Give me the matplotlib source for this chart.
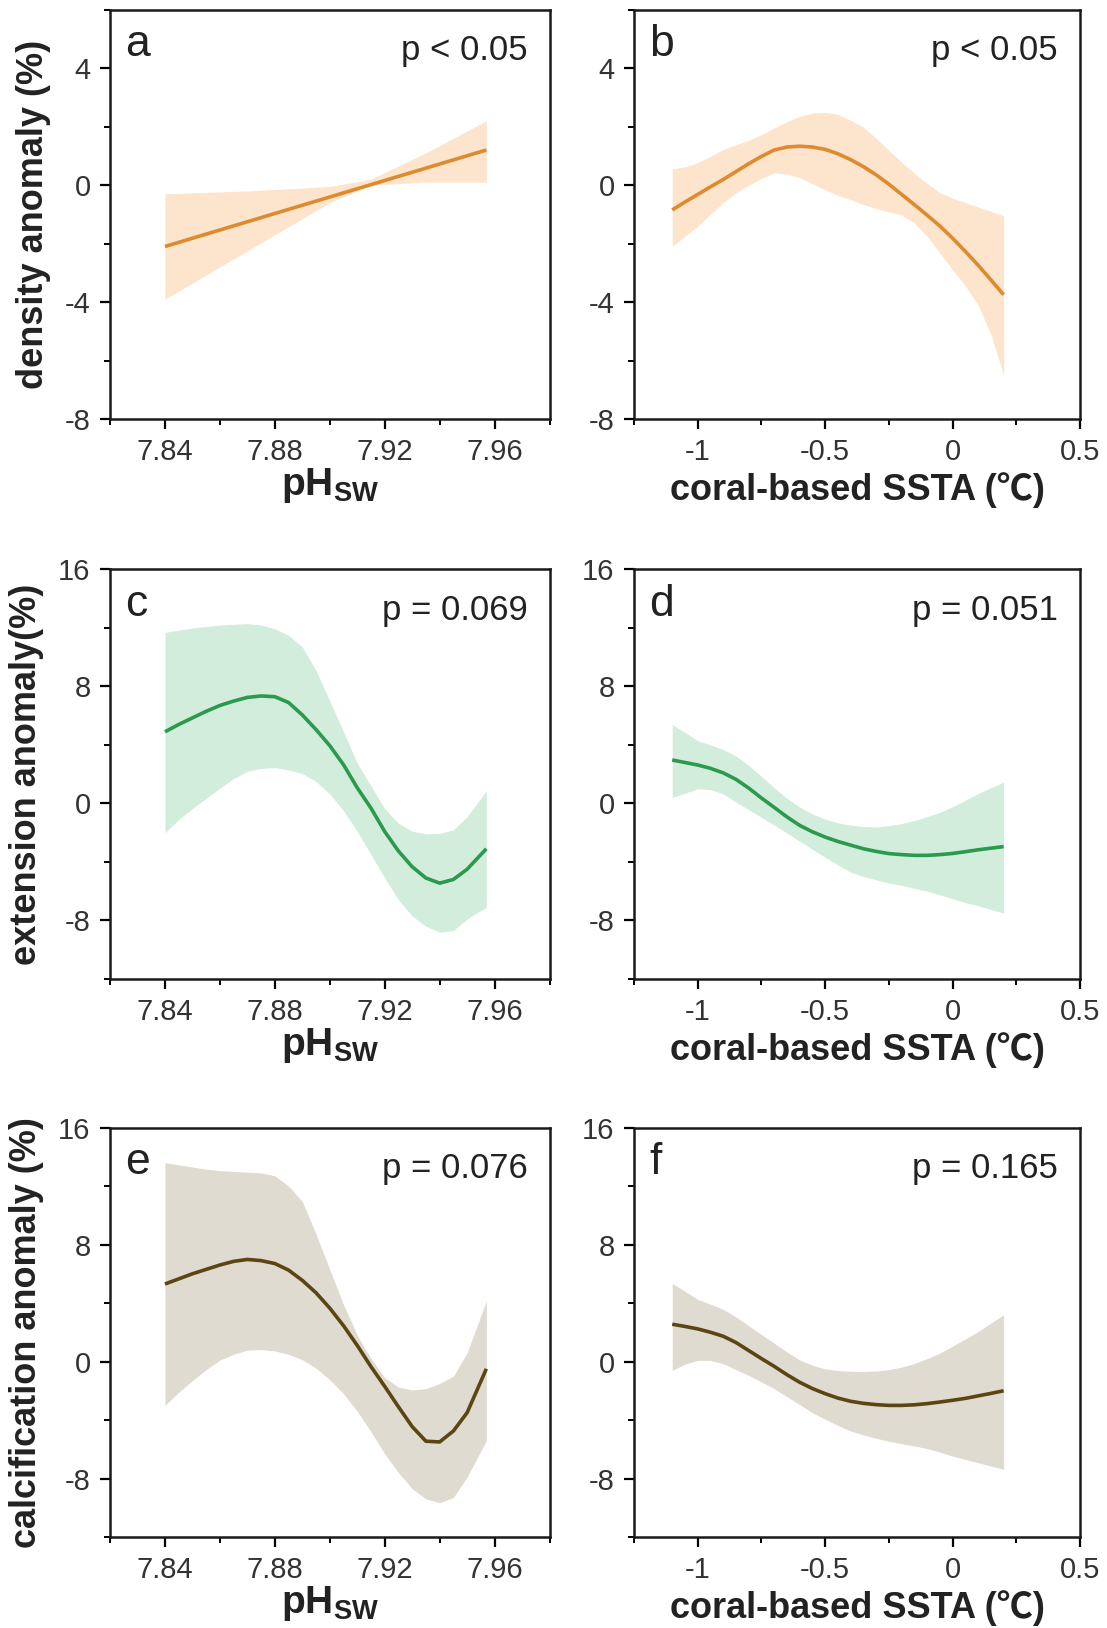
import matplotlib
matplotlib.use("Agg")
import matplotlib.pyplot as plt
from matplotlib.ticker import MultipleLocator

plt.rcParams['font.family'] = ['Liberation Sans', 'Noto Sans CJK SC', 'DejaVu Sans']
plt.rcParams['axes.unicode_minus'] = False
plt.rcParams['mathtext.fontset'] = 'custom'
plt.rcParams['mathtext.rm'] = 'Liberation Sans'
plt.rcParams['mathtext.bf'] = 'Liberation Sans:bold'

# ---- pH panels (a, c, e)
dens_ph_line_x = [7.84, 7.957]
dens_ph_line = [-2.1, 1.2]
dens_ph_band_x = [7.84, 7.87, 7.90, 7.915, 7.935, 7.957]
dens_ph_up = [-0.3, -0.2, -0.05, 0.2, 1.1, 2.2]
dens_ph_lo = [-3.9, -2.25, -0.6, 0.0, 0.1, 0.1]

ph_x = [7.84, 7.845, 7.85, 7.855, 7.86, 7.865, 7.87, 7.875, 7.88, 7.885, 7.89, 7.895,
        7.90, 7.905, 7.91, 7.915, 7.92, 7.925, 7.93, 7.935, 7.94, 7.945, 7.95, 7.957]

ext_ph_line = [4.9, 5.4, 5.85, 6.3, 6.7, 7.0, 7.25, 7.35, 7.3, 6.9, 6.05, 5.05,
               3.95, 2.65, 1.07, -0.32, -1.92, -3.26, -4.33, -5.1, -5.45, -5.2, -4.5, -3.1]
ext_ph_up = [11.7, 11.85, 12.0, 12.1, 12.2, 12.25, 12.3, 12.2, 11.95, 11.5, 10.7, 9.1,
             7.0, 4.9, 2.75, 1.2, -0.35, -1.35, -1.9, -2.08, -2.05, -1.8, -0.9, 0.86]
ext_ph_lo = [-2.0, -1.1, -0.35, 0.35, 1.05, 1.7, 2.2, 2.4, 2.45, 2.3, 2.05, 1.5,
             0.65, -0.5, -1.9, -3.5, -5.1, -6.6, -7.7, -8.4, -8.8, -8.7, -7.9, -7.1]

calc_ph_line = [5.3, 5.65, 6.0, 6.3, 6.6, 6.85, 6.98, 6.9, 6.7, 6.25, 5.55, 4.7,
                3.65, 2.45, 1.1, -0.35, -1.7, -3.1, -4.45, -5.45, -5.5, -4.75, -3.5, -0.5]
calc_ph_up = [13.6, 13.45, 13.3, 13.15, 13.05, 13.0, 12.95, 12.9, 12.7, 12.0, 10.95, 8.7,
              6.3, 3.9, 1.8, 0.2, -1.1, -1.75, -1.95, -1.85, -1.5, -1.0, 0.6, 4.15]
calc_ph_lo = [-3.0, -2.1, -1.3, -0.55, 0.1, 0.5, 0.78, 0.82, 0.72, 0.5, 0.12, -0.45,
              -1.25, -2.2, -3.4, -4.8, -6.3, -7.6, -8.7, -9.4, -9.65, -9.3, -7.9, -5.4]

# ---- SSTA panels (b, d, f)
ss_x = [-1.1, -1.05, -1.0, -0.95, -0.9, -0.85, -0.8, -0.75, -0.7, -0.65, -0.6, -0.55, -0.5, -0.45,
        -0.4, -0.35, -0.3, -0.25, -0.2, -0.15, -0.1, -0.05, 0.0, 0.05, 0.1, 0.15, 0.2]

dens_ss_line = [-0.85, -0.58, -0.32, -0.06, 0.19, 0.46, 0.73, 0.98, 1.2, 1.3, 1.33, 1.3, 1.22, 1.07,
                0.87, 0.63, 0.35, 0.03, -0.32, -0.67, -1.03, -1.4, -1.82, -2.27, -2.74, -3.24, -3.75]
dens_ss_up = [0.55, 0.62, 0.77, 0.98, 1.22, 1.38, 1.53, 1.72, 1.95, 2.17, 2.35, 2.46, 2.48, 2.42,
              2.22, 1.98, 1.6, 1.18, 0.78, 0.4, 0.06, -0.26, -0.45, -0.6, -0.75, -0.9, -1.05]
dens_ss_lo = [-2.1, -1.75, -1.4, -1.0, -0.6, -0.27, 0.0, 0.23, 0.42, 0.38, 0.25, 0.05, -0.16, -0.35,
              -0.5, -0.66, -0.8, -0.92, -1.02, -1.3, -1.75, -2.32, -2.9, -3.45, -4.1, -5.1, -6.5]

ext_ss_line = [2.97, 2.8, 2.63, 2.4, 2.09, 1.65, 1.05, 0.37, -0.27, -0.92, -1.5, -1.94, -2.3, -2.6,
               -2.85, -3.1, -3.28, -3.43, -3.5, -3.55, -3.55, -3.5, -3.42, -3.3, -3.17, -3.06, -2.95]
ext_ss_up = [5.4, 4.85, 4.3, 4.0, 3.69, 3.25, 2.6, 1.85, 1.07, 0.35, -0.25, -0.72, -1.07, -1.32,
             -1.48, -1.58, -1.6, -1.52, -1.38, -1.17, -0.9, -0.61, -0.22, 0.22, 0.68, 1.08, 1.45]
ext_ss_lo = [0.4, 0.7, 1.0, 0.95, 0.65, 0.1, -0.42, -0.95, -1.47, -2.02, -2.58, -3.14, -3.68, -4.2,
             -4.7, -5.0, -5.22, -5.45, -5.6, -5.8, -6.0, -6.25, -6.52, -6.78, -7.0, -7.25, -7.5]

calc_ss_line = [2.55, 2.4, 2.23, 2.0, 1.73, 1.3, 0.75, 0.2, -0.33, -0.9, -1.42, -1.85, -2.2, -2.5,
                -2.72, -2.86, -2.95, -3.0, -3.0, -2.96, -2.88, -2.77, -2.65, -2.52, -2.35, -2.18, -2.0]
calc_ss_up = [5.35, 4.8, 4.26, 3.92, 3.57, 3.05, 2.45, 1.85, 1.25, 0.65, 0.1, -0.25, -0.5, -0.62,
              -0.67, -0.68, -0.65, -0.55, -0.38, -0.13, 0.2, 0.58, 1.05, 1.55, 2.05, 2.62, 3.2]
calc_ss_lo = [-0.6, -0.18, 0.08, 0.08, -0.15, -0.55, -0.95, -1.4, -1.85, -2.4, -2.95, -3.5, -3.95, -4.37,
              -4.75, -5.02, -5.25, -5.45, -5.62, -5.78, -5.95, -6.2, -6.47, -6.7, -6.92, -7.15, -7.37]

# ---- ticks / labels
ph_ticks = [7.84, 7.88, 7.92, 7.96]
ph_ticklabels = ["7.84", "7.88", "7.92", "7.96"]
ss_ticks = [-1, -0.5, 0, 0.5]
ss_ticklabels = ["-1", "-0.5", "0", "0.5"]
dens_yticks = [-8, -4, 0, 4]
big_yticks = [-8, 0, 8, 16]

ylabels = ["density anomaly (%)", "extension anomaly(%)", "calcification anomaly (%)"]
letters = ["a", "b", "c", "d", "e", "f"]
pvals = ["p < 0.05", "p < 0.05", "p = 0.069", "p = 0.051", "p = 0.076", "p = 0.165"]

orange = ("#de8a2e", "#fde4cc")
green = ("#2a9a4c", "#d3eddd")
brown = ("#5b4613", "#e0dbd0")

TXT = "#222222"

fig = plt.figure(figsize=(11.07, 16.28), dpi=100)
lefts = [0.0994, 0.5727]
widths = [0.397, 0.403]
bottoms = [0.7426, 0.3987, 0.0559]
height = 0.2515

panels = [
    (0, 0, dens_ph_line_x, dens_ph_line, dens_ph_band_x, dens_ph_up, dens_ph_lo, orange),
    (0, 1, ss_x, dens_ss_line, ss_x, dens_ss_up, dens_ss_lo, orange),
    (1, 0, ph_x, ext_ph_line, ph_x, ext_ph_up, ext_ph_lo, green),
    (1, 1, ss_x, ext_ss_line, ss_x, ext_ss_up, ext_ss_lo, green),
    (2, 0, ph_x, calc_ph_line, ph_x, calc_ph_up, calc_ph_lo, brown),
    (2, 1, ss_x, calc_ss_line, ss_x, calc_ss_up, calc_ss_lo, brown),
]

for k, (r, c, lx, ly, bx, up, lo, col) in enumerate(panels):
    ax = fig.add_axes([lefts[c], bottoms[r], widths[c], height])
    ax.fill_between(bx, lo, up, color=col[1], linewidth=0)
    ax.plot(lx, ly, color=col[0], linewidth=2.6, solid_capstyle='butt',
            solid_joinstyle='round')

    if c == 0:
        ax.set_xlim(7.82, 7.98)
        ax.set_xticks(ph_ticks)
        ax.set_xticklabels(ph_ticklabels)
        ax.xaxis.set_minor_locator(MultipleLocator(0.02))
        ax.set_xlabel(r"$\mathbf{pH_{SW}}$", fontsize=28, color=TXT, labelpad=0)
    else:
        ax.set_xlim(-1.25, 0.5)
        ax.set_xticks(ss_ticks)
        ax.set_xticklabels(ss_ticklabels)
        ax.xaxis.set_minor_locator(MultipleLocator(0.25))
        ax.set_xlabel("coral-based SSTA (\u2103)", fontsize=26, fontweight="bold",
                      color=TXT, labelpad=4)

    if r == 0:
        ax.set_ylim(-8, 6)
        ax.set_yticks(dens_yticks)
        ax.yaxis.set_minor_locator(MultipleLocator(2))
    else:
        ax.set_ylim(-12, 16)
        ax.set_yticks(big_yticks)
        ax.yaxis.set_minor_locator(MultipleLocator(4))

    if c == 0:
        ax.set_ylabel(ylabels[r], fontsize=26, fontweight="bold", color=TXT, labelpad=10)

    ax.tick_params(which="major", direction="out", length=7, width=1.6,
                   labelsize=21, labelcolor="#333333", pad=7)
    ax.tick_params(which="minor", direction="out", length=4, width=1.4)
    ax.tick_params(top=False, right=False, which="both")
    for sp in ax.spines.values():
        sp.set_linewidth(1.8)
        sp.set_color("#1a1a1a")

    ax.text(0.035, 0.965, letters[k], transform=ax.transAxes, fontsize=32,
            color=TXT, ha="left", va="top")
    ax.text(0.95, 0.9, pvals[k], transform=ax.transAxes, fontsize=25,
            color=TXT, ha="right", va="center")

fig.savefig("out.png", dpi=100, facecolor="white")
